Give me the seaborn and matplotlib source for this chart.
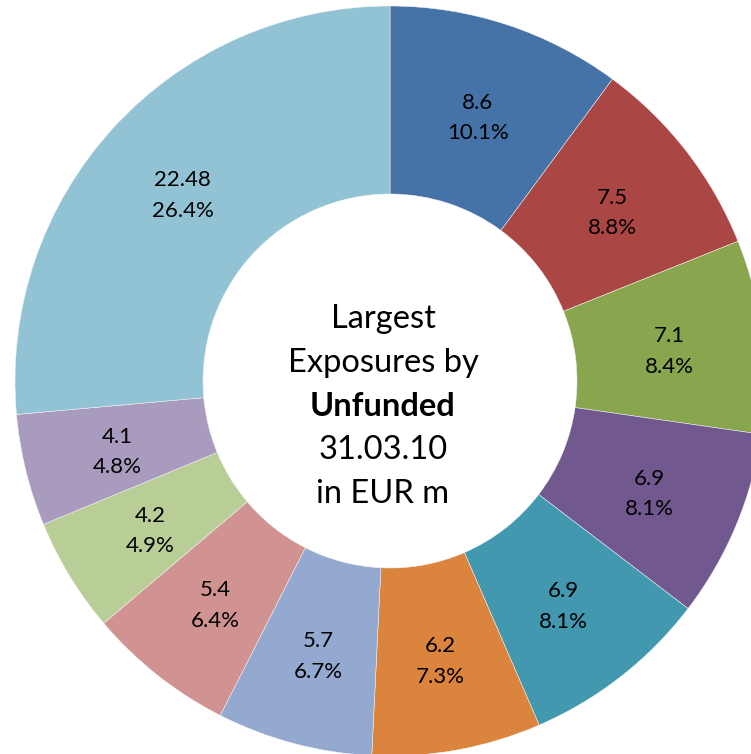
import matplotlib
matplotlib.use("Agg")
import matplotlib.pyplot as plt
import seaborn as sns
import numpy as np

# Unfunded largest exposures, EUR m, clockwise from 12 o'clock
values = [8.6, 7.5, 7.1, 6.9, 6.9, 6.2, 5.7, 5.4, 4.2, 4.1, 22.48]
value_labels = ["8.6", "7.5", "7.1", "6.9", "6.9", "6.2", "5.7", "5.4", "4.2", "4.1", "22.48"]
pct_labels = ["10.1%", "8.8%", "8.4%", "8.1%", "8.1%", "7.3%", "6.7%", "6.4%", "4.9%", "4.8%", "26.4%"]
colors = ["#4572A7", "#AA4643", "#89A54E", "#71588F", "#4198AF", "#DB843D",
          "#93A9CF", "#D19392", "#B9CD96", "#A99BBD", "#92C3D4"]
center_lines = ["Largest", "Exposures by", "Unfunded", "31.03.10", "in EUR m"]

sns.set_theme(style="white")
plt.rcParams["font.family"] = ["Lato", "DejaVu Sans"]

W, H = 751, 754
cx, cy = 390, 381
R, r = 375, 187

fig = plt.figure(figsize=(W / 100, H / 100), dpi=100)
ax = fig.add_axes([0, 0, 1, 1])

wedges, _ = ax.pie(values, colors=colors, startangle=90, counterclock=False,
                   radius=R, center=(0, 0), frame=True,
                   wedgeprops=dict(width=R - r, edgecolor="#f4f4f4", linewidth=0.35))
ax.set_xlim(-cx, W - cx)
ax.set_ylim(-(H - cy), cy)
ax.set_aspect("equal")
ax.axis("off")

lab_r = (R + r) / 2
for w, v, p in zip(wedges, value_labels, pct_labels):
    ang = np.deg2rad((w.theta1 + w.theta2) / 2)
    x, y = lab_r * np.cos(ang), lab_r * np.sin(ang) - 4
    ax.text(x, y, f"{v}\n{p}", ha="center", va="center", fontsize=16,
            linespacing=1.65, color="black")

line_y = [62, 18, -25, -69, -113]
for t, yy in zip(center_lines, line_y):
    ax.text(-7, yy, t, ha="center", va="center", fontsize=23.5,
            fontweight="bold" if t == "Unfunded" else "normal", color="black")

fig.savefig("out.png", dpi=100)
